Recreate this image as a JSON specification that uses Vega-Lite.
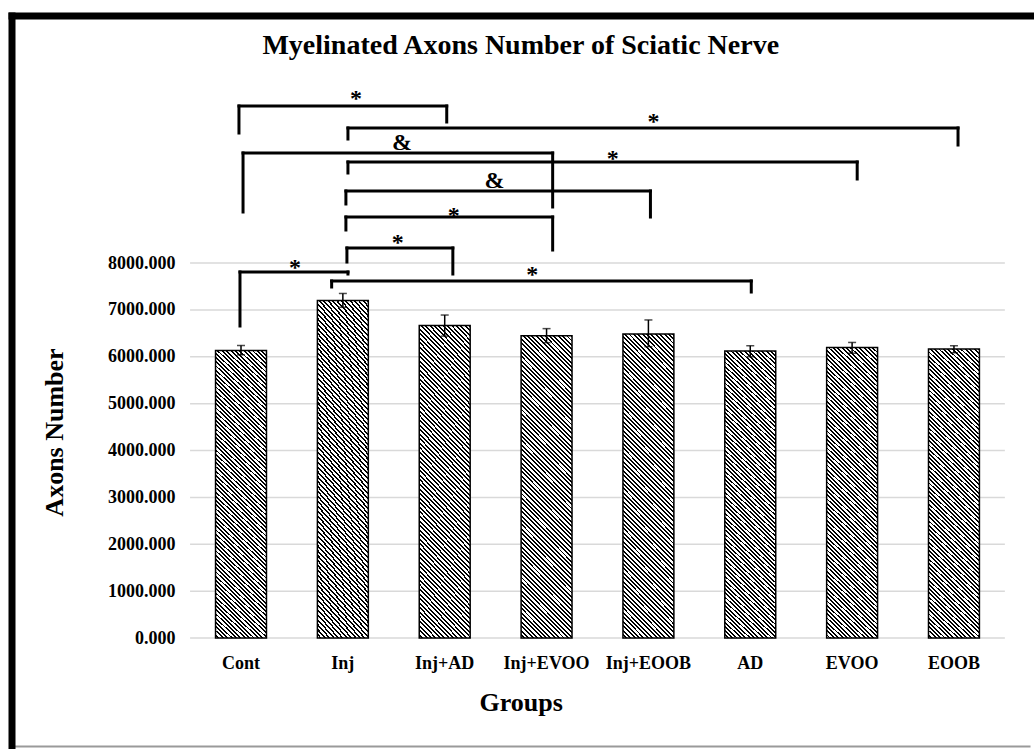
{
  "$schema": "https://vega.github.io/schema/vega-lite/v6.json",
  "width": 1018.5,
  "height": 733.5,
  "autosize": {"type": "none"},
  "padding": {"left": 11.5, "top": 15.5, "right": 4, "bottom": 0},
  "background": "white",
  "title": {"text": "Myelinated Axons Number of Sciatic Nerve", "font": "Liberation Serif", "fontSize": 28, "fontWeight": "bold", "color": "black", "anchor": "middle", "baseline": "alphabetic", "offset": -66},
  "config": {
    "font": "Liberation Serif",
    "view": {"stroke": null},
    "axis": {"labelFont": "Liberation Serif", "labelFontWeight": "bold", "labelFontSize": 18, "labelColor": "black", "titleFont": "Liberation Serif", "titleFontWeight": "bold", "titleFontSize": 26, "titleColor": "black"}
  },
  "datasets": {
    "grid": [{"v": 0}, {"v": 1000}, {"v": 2000}, {"v": 3000}, {"v": 4000}, {"v": 5000}, {"v": 6000}, {"v": 7000}, {"v": 8000}],
    "bars": [
      {"group": "Cont", "mean": 6135, "lo": 6040, "hi": 6240},
      {"group": "Inj", "mean": 7200, "lo": 7055, "hi": 7350},
      {"group": "Inj+AD", "mean": 6665, "lo": 6440, "hi": 6890},
      {"group": "Inj+EVOO", "mean": 6450, "lo": 6300, "hi": 6600},
      {"group": "Inj+EOOB", "mean": 6485, "lo": 6215, "hi": 6785},
      {"group": "AD", "mean": 6125, "lo": 6000, "hi": 6235},
      {"group": "EVOO", "mean": 6200, "lo": 6075, "hi": 6305},
      {"group": "EOOB", "mean": 6165, "lo": 6085, "hi": 6235}
    ],
    "brackets": [
      {"from": -0.02, "to": 2.02, "top": 11349, "dropFrom": 10773, "dropTo": 11008, "label": "*", "labelAt": 1.13, "labelY": 11349},
      {"from": 1.05, "to": 7.04, "top": 10880, "dropFrom": 10645, "dropTo": 10517, "label": "*", "labelAt": 4.05, "labelY": 10859},
      {"from": 0.02, "to": 3.06, "top": 10347, "dropFrom": 9088, "dropTo": 9195, "label": "&", "labelAt": 1.58, "labelY": 10411},
      {"from": 1.05, "to": 6.05, "top": 10155, "dropFrom": 9920, "dropTo": 9792, "label": "*", "labelAt": 3.65, "labelY": 10069},
      {"from": 1.03, "to": 4.02, "top": 9536, "dropFrom": 9259, "dropTo": 8981, "label": "&", "labelAt": 2.49, "labelY": 9600},
      {"from": 1.03, "to": 3.06, "top": 8981, "dropFrom": 8704, "dropTo": 8277, "label": "*", "labelAt": 2.09, "labelY": 8853},
      {"from": 1.04, "to": 2.08, "top": 8320, "dropFrom": 8021, "dropTo": 7765, "label": "*", "labelAt": 1.54, "labelY": 8277},
      {"from": -0.01, "to": 1.05, "top": 7808, "dropFrom": 6656, "dropTo": 7765, "label": "*", "labelAt": 0.53, "labelY": 7744},
      {"from": 0.89, "to": 5.01, "top": 7616, "dropFrom": 7488, "dropTo": 7381, "label": "*", "labelAt": 2.86, "labelY": 7595}
    ]
  },
  "layer": [
    {
      "data": {"name": "grid"},
      "mark": {"type": "rule", "color": "#d9d9d9", "strokeWidth": 1.5},
      "encoding": {
        "x": {"datum": -0.5, "type": "quantitative", "scale": {"domain": [-2.2533, 7.7467], "nice": false, "zero": false}, "axis": {"orient": "top", "labels": false, "ticks": false, "grid": false, "title": null, "domain": true, "domainColor": "black", "domainWidth": 7, "domainCap": "square"}},
        "x2": {"datum": 7.5},
        "y": {"field": "v", "type": "quantitative", "scale": {"domain": [-2368, 13280], "nice": false, "zero": false}, "axis": {"orient": "left", "labels": false, "ticks": false, "grid": false, "title": null, "domain": true, "domainColor": "black", "domainWidth": 7, "domainCap": "square"}}
      }
    },
    {
      "data": {"name": "bars"},
      "encoding": {
        "x": {"field": "group", "type": "nominal", "sort": null, "scale": {"paddingInner": 0, "paddingOuter": 1, "align": 0.8767}, "axis": {"orient": "bottom", "offset": -111, "title": "Groups", "titleY": 72, "titleBaseline": "alphabetic", "labelAngle": 0, "labelPadding": 30, "labelBaseline": "alphabetic", "tickSize": 0, "ticks": false, "domain": false, "grid": false, "labelOverlap": false}}
      },
      "layer": [
        {
          "mark": {"type": "bar", "width": {"band": 0.5}, "stroke": "black", "strokeWidth": 1.5, "fill": {"gradient": "linear", "x1": 1, "y1": 0, "x2": 0.80697, "y2": 1.137, "stops": [
            {"offset":0,"color":"#000"},{"offset":0.0055,"color":"#000"},{"offset":0.0055,"color":"#fff"},{"offset":0.0125,"color":"#fff"},
            {"offset":0.0125,"color":"#000"},{"offset":0.018,"color":"#000"},{"offset":0.018,"color":"#fff"},{"offset":0.025,"color":"#fff"},
            {"offset":0.025,"color":"#000"},{"offset":0.0305,"color":"#000"},{"offset":0.0305,"color":"#fff"},{"offset":0.0375,"color":"#fff"},
            {"offset":0.0375,"color":"#000"},{"offset":0.043,"color":"#000"},{"offset":0.043,"color":"#fff"},{"offset":0.05,"color":"#fff"},
            {"offset":0.05,"color":"#000"},{"offset":0.0555,"color":"#000"},{"offset":0.0555,"color":"#fff"},{"offset":0.0625,"color":"#fff"},
            {"offset":0.0625,"color":"#000"},{"offset":0.068,"color":"#000"},{"offset":0.068,"color":"#fff"},{"offset":0.075,"color":"#fff"},
            {"offset":0.075,"color":"#000"},{"offset":0.0805,"color":"#000"},{"offset":0.0805,"color":"#fff"},{"offset":0.0875,"color":"#fff"},
            {"offset":0.0875,"color":"#000"},{"offset":0.093,"color":"#000"},{"offset":0.093,"color":"#fff"},{"offset":0.1,"color":"#fff"},
            {"offset":0.1,"color":"#000"},{"offset":0.1055,"color":"#000"},{"offset":0.1055,"color":"#fff"},{"offset":0.1125,"color":"#fff"},
            {"offset":0.1125,"color":"#000"},{"offset":0.118,"color":"#000"},{"offset":0.118,"color":"#fff"},{"offset":0.125,"color":"#fff"},
            {"offset":0.125,"color":"#000"},{"offset":0.1305,"color":"#000"},{"offset":0.1305,"color":"#fff"},{"offset":0.1375,"color":"#fff"},
            {"offset":0.1375,"color":"#000"},{"offset":0.143,"color":"#000"},{"offset":0.143,"color":"#fff"},{"offset":0.15,"color":"#fff"},
            {"offset":0.15,"color":"#000"},{"offset":0.1555,"color":"#000"},{"offset":0.1555,"color":"#fff"},{"offset":0.1625,"color":"#fff"},
            {"offset":0.1625,"color":"#000"},{"offset":0.168,"color":"#000"},{"offset":0.168,"color":"#fff"},{"offset":0.175,"color":"#fff"},
            {"offset":0.175,"color":"#000"},{"offset":0.1805,"color":"#000"},{"offset":0.1805,"color":"#fff"},{"offset":0.1875,"color":"#fff"},
            {"offset":0.1875,"color":"#000"},{"offset":0.193,"color":"#000"},{"offset":0.193,"color":"#fff"},{"offset":0.2,"color":"#fff"},
            {"offset":0.2,"color":"#000"},{"offset":0.2055,"color":"#000"},{"offset":0.2055,"color":"#fff"},{"offset":0.2125,"color":"#fff"},
            {"offset":0.2125,"color":"#000"},{"offset":0.218,"color":"#000"},{"offset":0.218,"color":"#fff"},{"offset":0.225,"color":"#fff"},
            {"offset":0.225,"color":"#000"},{"offset":0.2305,"color":"#000"},{"offset":0.2305,"color":"#fff"},{"offset":0.2375,"color":"#fff"},
            {"offset":0.2375,"color":"#000"},{"offset":0.243,"color":"#000"},{"offset":0.243,"color":"#fff"},{"offset":0.25,"color":"#fff"},
            {"offset":0.25,"color":"#000"},{"offset":0.2555,"color":"#000"},{"offset":0.2555,"color":"#fff"},{"offset":0.2625,"color":"#fff"},
            {"offset":0.2625,"color":"#000"},{"offset":0.268,"color":"#000"},{"offset":0.268,"color":"#fff"},{"offset":0.275,"color":"#fff"},
            {"offset":0.275,"color":"#000"},{"offset":0.2805,"color":"#000"},{"offset":0.2805,"color":"#fff"},{"offset":0.2875,"color":"#fff"},
            {"offset":0.2875,"color":"#000"},{"offset":0.293,"color":"#000"},{"offset":0.293,"color":"#fff"},{"offset":0.3,"color":"#fff"},
            {"offset":0.3,"color":"#000"},{"offset":0.3055,"color":"#000"},{"offset":0.3055,"color":"#fff"},{"offset":0.3125,"color":"#fff"},
            {"offset":0.3125,"color":"#000"},{"offset":0.318,"color":"#000"},{"offset":0.318,"color":"#fff"},{"offset":0.325,"color":"#fff"},
            {"offset":0.325,"color":"#000"},{"offset":0.3305,"color":"#000"},{"offset":0.3305,"color":"#fff"},{"offset":0.3375,"color":"#fff"},
            {"offset":0.3375,"color":"#000"},{"offset":0.343,"color":"#000"},{"offset":0.343,"color":"#fff"},{"offset":0.35,"color":"#fff"},
            {"offset":0.35,"color":"#000"},{"offset":0.3555,"color":"#000"},{"offset":0.3555,"color":"#fff"},{"offset":0.3625,"color":"#fff"},
            {"offset":0.3625,"color":"#000"},{"offset":0.368,"color":"#000"},{"offset":0.368,"color":"#fff"},{"offset":0.375,"color":"#fff"},
            {"offset":0.375,"color":"#000"},{"offset":0.3805,"color":"#000"},{"offset":0.3805,"color":"#fff"},{"offset":0.3875,"color":"#fff"},
            {"offset":0.3875,"color":"#000"},{"offset":0.393,"color":"#000"},{"offset":0.393,"color":"#fff"},{"offset":0.4,"color":"#fff"},
            {"offset":0.4,"color":"#000"},{"offset":0.4055,"color":"#000"},{"offset":0.4055,"color":"#fff"},{"offset":0.4125,"color":"#fff"},
            {"offset":0.4125,"color":"#000"},{"offset":0.418,"color":"#000"},{"offset":0.418,"color":"#fff"},{"offset":0.425,"color":"#fff"},
            {"offset":0.425,"color":"#000"},{"offset":0.4305,"color":"#000"},{"offset":0.4305,"color":"#fff"},{"offset":0.4375,"color":"#fff"},
            {"offset":0.4375,"color":"#000"},{"offset":0.443,"color":"#000"},{"offset":0.443,"color":"#fff"},{"offset":0.45,"color":"#fff"},
            {"offset":0.45,"color":"#000"},{"offset":0.4555,"color":"#000"},{"offset":0.4555,"color":"#fff"},{"offset":0.4625,"color":"#fff"},
            {"offset":0.4625,"color":"#000"},{"offset":0.468,"color":"#000"},{"offset":0.468,"color":"#fff"},{"offset":0.475,"color":"#fff"},
            {"offset":0.475,"color":"#000"},{"offset":0.4805,"color":"#000"},{"offset":0.4805,"color":"#fff"},{"offset":0.4875,"color":"#fff"},
            {"offset":0.4875,"color":"#000"},{"offset":0.493,"color":"#000"},{"offset":0.493,"color":"#fff"},{"offset":0.5,"color":"#fff"},
            {"offset":0.5,"color":"#000"},{"offset":0.5055,"color":"#000"},{"offset":0.5055,"color":"#fff"},{"offset":0.5125,"color":"#fff"},
            {"offset":0.5125,"color":"#000"},{"offset":0.518,"color":"#000"},{"offset":0.518,"color":"#fff"},{"offset":0.525,"color":"#fff"},
            {"offset":0.525,"color":"#000"},{"offset":0.5305,"color":"#000"},{"offset":0.5305,"color":"#fff"},{"offset":0.5375,"color":"#fff"},
            {"offset":0.5375,"color":"#000"},{"offset":0.543,"color":"#000"},{"offset":0.543,"color":"#fff"},{"offset":0.55,"color":"#fff"},
            {"offset":0.55,"color":"#000"},{"offset":0.5555,"color":"#000"},{"offset":0.5555,"color":"#fff"},{"offset":0.5625,"color":"#fff"},
            {"offset":0.5625,"color":"#000"},{"offset":0.568,"color":"#000"},{"offset":0.568,"color":"#fff"},{"offset":0.575,"color":"#fff"},
            {"offset":0.575,"color":"#000"},{"offset":0.5805,"color":"#000"},{"offset":0.5805,"color":"#fff"},{"offset":0.5875,"color":"#fff"},
            {"offset":0.5875,"color":"#000"},{"offset":0.593,"color":"#000"},{"offset":0.593,"color":"#fff"},{"offset":0.6,"color":"#fff"},
            {"offset":0.6,"color":"#000"},{"offset":0.6055,"color":"#000"},{"offset":0.6055,"color":"#fff"},{"offset":0.6125,"color":"#fff"},
            {"offset":0.6125,"color":"#000"},{"offset":0.618,"color":"#000"},{"offset":0.618,"color":"#fff"},{"offset":0.625,"color":"#fff"},
            {"offset":0.625,"color":"#000"},{"offset":0.6305,"color":"#000"},{"offset":0.6305,"color":"#fff"},{"offset":0.6375,"color":"#fff"},
            {"offset":0.6375,"color":"#000"},{"offset":0.643,"color":"#000"},{"offset":0.643,"color":"#fff"},{"offset":0.65,"color":"#fff"},
            {"offset":0.65,"color":"#000"},{"offset":0.6555,"color":"#000"},{"offset":0.6555,"color":"#fff"},{"offset":0.6625,"color":"#fff"},
            {"offset":0.6625,"color":"#000"},{"offset":0.668,"color":"#000"},{"offset":0.668,"color":"#fff"},{"offset":0.675,"color":"#fff"},
            {"offset":0.675,"color":"#000"},{"offset":0.6805,"color":"#000"},{"offset":0.6805,"color":"#fff"},{"offset":0.6875,"color":"#fff"},
            {"offset":0.6875,"color":"#000"},{"offset":0.693,"color":"#000"},{"offset":0.693,"color":"#fff"},{"offset":0.7,"color":"#fff"},
            {"offset":0.7,"color":"#000"},{"offset":0.7055,"color":"#000"},{"offset":0.7055,"color":"#fff"},{"offset":0.7125,"color":"#fff"},
            {"offset":0.7125,"color":"#000"},{"offset":0.718,"color":"#000"},{"offset":0.718,"color":"#fff"},{"offset":0.725,"color":"#fff"},
            {"offset":0.725,"color":"#000"},{"offset":0.7305,"color":"#000"},{"offset":0.7305,"color":"#fff"},{"offset":0.7375,"color":"#fff"},
            {"offset":0.7375,"color":"#000"},{"offset":0.743,"color":"#000"},{"offset":0.743,"color":"#fff"},{"offset":0.75,"color":"#fff"},
            {"offset":0.75,"color":"#000"},{"offset":0.7555,"color":"#000"},{"offset":0.7555,"color":"#fff"},{"offset":0.7625,"color":"#fff"},
            {"offset":0.7625,"color":"#000"},{"offset":0.768,"color":"#000"},{"offset":0.768,"color":"#fff"},{"offset":0.775,"color":"#fff"},
            {"offset":0.775,"color":"#000"},{"offset":0.7805,"color":"#000"},{"offset":0.7805,"color":"#fff"},{"offset":0.7875,"color":"#fff"},
            {"offset":0.7875,"color":"#000"},{"offset":0.793,"color":"#000"},{"offset":0.793,"color":"#fff"},{"offset":0.8,"color":"#fff"},
            {"offset":0.8,"color":"#000"},{"offset":0.8055,"color":"#000"},{"offset":0.8055,"color":"#fff"},{"offset":0.8125,"color":"#fff"},
            {"offset":0.8125,"color":"#000"},{"offset":0.818,"color":"#000"},{"offset":0.818,"color":"#fff"},{"offset":0.825,"color":"#fff"},
            {"offset":0.825,"color":"#000"},{"offset":0.8305,"color":"#000"},{"offset":0.8305,"color":"#fff"},{"offset":0.8375,"color":"#fff"},
            {"offset":0.8375,"color":"#000"},{"offset":0.843,"color":"#000"},{"offset":0.843,"color":"#fff"},{"offset":0.85,"color":"#fff"},
            {"offset":0.85,"color":"#000"},{"offset":0.8555,"color":"#000"},{"offset":0.8555,"color":"#fff"},{"offset":0.8625,"color":"#fff"},
            {"offset":0.8625,"color":"#000"},{"offset":0.868,"color":"#000"},{"offset":0.868,"color":"#fff"},{"offset":0.875,"color":"#fff"},
            {"offset":0.875,"color":"#000"},{"offset":0.8805,"color":"#000"},{"offset":0.8805,"color":"#fff"},{"offset":0.8875,"color":"#fff"},
            {"offset":0.8875,"color":"#000"},{"offset":0.893,"color":"#000"},{"offset":0.893,"color":"#fff"},{"offset":0.9,"color":"#fff"},
            {"offset":0.9,"color":"#000"},{"offset":0.9055,"color":"#000"},{"offset":0.9055,"color":"#fff"},{"offset":0.9125,"color":"#fff"},
            {"offset":0.9125,"color":"#000"},{"offset":0.918,"color":"#000"},{"offset":0.918,"color":"#fff"},{"offset":0.925,"color":"#fff"},
            {"offset":0.925,"color":"#000"},{"offset":0.9305,"color":"#000"},{"offset":0.9305,"color":"#fff"},{"offset":0.9375,"color":"#fff"},
            {"offset":0.9375,"color":"#000"},{"offset":0.943,"color":"#000"},{"offset":0.943,"color":"#fff"},{"offset":0.95,"color":"#fff"},
            {"offset":0.95,"color":"#000"},{"offset":0.9555,"color":"#000"},{"offset":0.9555,"color":"#fff"},{"offset":0.9625,"color":"#fff"},
            {"offset":0.9625,"color":"#000"},{"offset":0.968,"color":"#000"},{"offset":0.968,"color":"#fff"},{"offset":0.975,"color":"#fff"},
            {"offset":0.975,"color":"#000"},{"offset":0.9805,"color":"#000"},{"offset":0.9805,"color":"#fff"},{"offset":0.9875,"color":"#fff"},
            {"offset":0.9875,"color":"#000"},{"offset":0.993,"color":"#000"},{"offset":0.993,"color":"#fff"},{"offset":1,"color":"#fff"}
          ]}},
          "encoding": {
            "y": {"field": "mean", "type": "quantitative", "title": "Axons Number", "scale": {"domain": [-2368, 13280], "nice": false, "zero": false}, "axis": {"orient": "left", "offset": -178.5, "values": [0, 1000, 2000, 3000, 4000, 5000, 6000, 7000, 8000], "format": ".3f", "labelPadding": 15, "tickSize": 0, "ticks": false, "domain": false, "grid": false, "labelOverlap": false, "title": "Axons Number", "titleX": -128, "titleY": 416.5, "titleAngle": -90, "titleBaseline": "alphabetic", "titleAlign": "center"}},
            "y2": {"datum": 0}
          }
        },
        {
          "mark": {"type": "rule", "color": "black", "strokeWidth": 1.5},
          "encoding": {
            "y": {"field": "lo", "type": "quantitative", "title": "Axons Number", "scale": {"domain": [-2368, 13280], "nice": false, "zero": false}},
            "y2": {"field": "hi"}
          }
        },
        {
          "mark": {"type": "tick", "color": "black", "thickness": 1.5, "size": 8},
          "encoding": {
            "y": {"field": "lo", "type": "quantitative", "title": "Axons Number", "scale": {"domain": [-2368, 13280], "nice": false, "zero": false}}
          }
        },
        {
          "mark": {"type": "tick", "color": "black", "thickness": 1.5, "size": 8},
          "encoding": {
            "y": {"field": "hi", "type": "quantitative", "title": "Axons Number", "scale": {"domain": [-2368, 13280], "nice": false, "zero": false}}
          }
        }
      ]
    },
    {
      "data": {"name": "brackets"},
      "layer": [
        {
          "mark": {"type": "rule", "color": "black", "strokeWidth": 3, "strokeCap": "square"},
          "encoding": {
            "x": {"field": "from", "type": "quantitative", "scale": {"domain": [-2.2533, 7.7467], "nice": false, "zero": false}, "axis": {"orient": "bottom", "offset": -3, "labels": false, "ticks": false, "grid": false, "title": null, "domain": true, "domainColor": "#9a9a9a", "domainWidth": 2}},
            "x2": {"field": "to"},
            "y": {"field": "top", "type": "quantitative", "scale": {"domain": [-2368, 13280], "nice": false, "zero": false}, "axis": null}
          }
        },
        {
          "mark": {"type": "rule", "color": "black", "strokeWidth": 3, "strokeCap": "square"},
          "encoding": {
            "x": {"field": "from", "type": "quantitative", "scale": {"domain": [-2.2533, 7.7467], "nice": false, "zero": false}, "axis": {"orient": "bottom", "offset": -3, "labels": false, "ticks": false, "grid": false, "title": null, "domain": true, "domainColor": "#9a9a9a", "domainWidth": 2}},
            "y": {"field": "top", "type": "quantitative", "scale": {"domain": [-2368, 13280], "nice": false, "zero": false}, "axis": null},
            "y2": {"field": "dropFrom"}
          }
        },
        {
          "mark": {"type": "rule", "color": "black", "strokeWidth": 3, "strokeCap": "square"},
          "encoding": {
            "x": {"field": "to", "type": "quantitative", "scale": {"domain": [-2.2533, 7.7467], "nice": false, "zero": false}, "axis": {"orient": "bottom", "offset": -3, "labels": false, "ticks": false, "grid": false, "title": null, "domain": true, "domainColor": "#9a9a9a", "domainWidth": 2}},
            "y": {"field": "top", "type": "quantitative", "scale": {"domain": [-2368, 13280], "nice": false, "zero": false}, "axis": null},
            "y2": {"field": "dropTo"}
          }
        },
        {
          "mark": {"type": "text", "font": "Liberation Serif", "fontWeight": "bold", "fontSize": 24, "color": "black", "align": "center", "baseline": "alphabetic"},
          "encoding": {
            "x": {"field": "labelAt", "type": "quantitative", "scale": {"domain": [-2.2533, 7.7467], "nice": false, "zero": false}, "axis": {"orient": "bottom", "offset": -3, "labels": false, "ticks": false, "grid": false, "title": null, "domain": true, "domainColor": "#9a9a9a", "domainWidth": 2}},
            "y": {"field": "labelY", "type": "quantitative", "scale": {"domain": [-2368, 13280], "nice": false, "zero": false}, "axis": null},
            "text": {"field": "label"}
          }
        }
      ]
    }
  ],
  "resolve": {"scale": {"x": "independent"}, "axis": {"x": "independent", "y": "independent"}}
}
